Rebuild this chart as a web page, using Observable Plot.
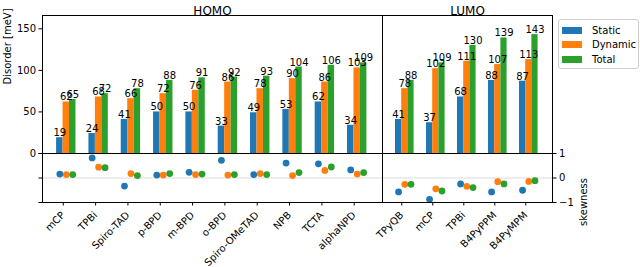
<!DOCTYPE html>
<html>
<head>
<meta charset="utf-8">
<script src="https://cdn.jsdelivr.net/npm/d3@7"></script>
<script src="https://cdn.jsdelivr.net/npm/@observablehq/plot@0.6"></script>
<style>
  html, body { margin: 0; padding: 0; background: white; }
  #chart { position: relative; width: 640px; height: 267px; font-family: "DejaVu Sans", sans-serif; }
  #chart svg { position: absolute; left: 0; top: 0; overflow: visible; }
  .legend { position: absolute; left: 558px; top: 19px; width: 79px; height: 48px; border: 1px solid #d0d0d0; border-radius: 3px; background: white; font-size: 10px; }
  .legend .row { position: absolute; left: 3px; height: 12px; display: flex; align-items: center; }
  .legend .sw { width: 20px; height: 7px; margin-right: 10px; }
</style>
</head>
<body>
<div id="chart"></div>
<script>
const series = ["Static", "Dynamic", "Total"];
const colors = ["#1f77b4", "#ff7f0e", "#2ca02c"];

const homo = ["mCP", "TPBi", "Spiro-TAD", "p-BPD", "m-BPD", "o-BPD", "Spiro-OMeTAD", "NPB", "TCTA", "alphaNPD"];
const homoStatic  = [19, 24, 41, 50, 50, 33, 49, 53, 62, 34];
const homoDynamic = [62, 68, 66, 72, 76, 86, 78, 90, 86, 103];
const homoTotal   = [65, 72, 78, 88, 91, 92, 93, 104, 106, 109];
const homoSkewStatic  = [0.16, 0.82, -0.33, 0.12, 0.23, 0.72, 0.14, 0.61, 0.58, 0.33];
const homoSkewDynamic = [0.14, 0.44, 0.18, 0.12, 0.14, 0.12, 0.18, 0.10, 0.31, 0.16];
const homoSkewTotal   = [0.14, 0.42, 0.10, 0.18, 0.16, 0.14, 0.14, 0.22, 0.45, 0.22];

const lumo = ["TPyQB", "mCP", "TPBi", "B4PyPPM", "B4PyMPM"];
const lumoStatic  = [41, 37, 68, 88, 87];
const lumoDynamic = [78, 102, 111, 107, 113];
const lumoTotal   = [88, 109, 130, 139, 143];
const lumoSkewStatic  = [-0.57, -0.87, -0.24, -0.57, -0.50];
const lumoSkewDynamic = [-0.26, -0.44, -0.34, -0.15, -0.14];
const lumoSkewTotal   = [-0.26, -0.53, -0.39, -0.24, -0.11];

const disorderTicks = [0, 50, 100, 150];
const skewTicks = [-1, 0, 1];

function rowsFor(cats, vals, skews) {
  return cats.flatMap((c, i) => series.map((s, k) => ({i, c, s, k, v: vals[k][i], sk: skews[k][i]})));
}
const homoRows = rowsFor(homo, [homoStatic, homoDynamic, homoTotal], [homoSkewStatic, homoSkewDynamic, homoSkewTotal]);
const lumoRows = rowsFor(lumo, [lumoStatic, lumoDynamic, lumoTotal], [lumoSkewStatic, lumoSkewDynamic, lumoSkewTotal]);

const W = 640, H = 267;
const L = 42, SEP = 382, R = 552, TOP = 15, MID = 153, BOT = 202;
const bw = 0.2;
const pos = d => d.i + (d.k - 1) * bw;

const base = {
  width: W, height: H,
  style: {background: "transparent", fontFamily: "DejaVu Sans, sans-serif", fontSize: "10px", color: "black", overflow: "visible"},
  color: {domain: series, range: colors}
};

function topPlot(rows, xdom, left, right, title, withY) {
  return Plot.plot({
    ...base,
    marginLeft: left, marginRight: W - right, marginTop: TOP, marginBottom: H - MID,
    x: {type: "linear", domain: xdom, axis: null},
    y: {domain: [0, 166], axis: null},
    marks: [
      Plot.rectY(rows, {x1: d => pos(d) - bw / 2, x2: d => pos(d) + bw / 2, y: "v", fill: "s"}),
      Plot.text(rows, {x: pos, y: "v", text: d => String(d.v), lineAnchor: "bottom", dy: -1.5, fontSize: 10, fill: "black"}),
      ...(withY ? [
        Plot.axisY({ticks: disorderTicks, tickSize: 3.5, tickPadding: 3, label: null}),
        Plot.text(["Disorder [meV]"], {text: d => d, frameAnchor: "left", dx: -35, rotate: -90, fontSize: 10})
      ] : []),
      Plot.text([title], {text: d => d, frameAnchor: "top", dy: -9.5, fontSize: 12}),
      Plot.frame({stroke: "black", strokeWidth: 1})
    ]
  });
}

function skewPlot(rows, cats, xdom, left, right, side) {
  return Plot.plot({
    ...base,
    marginLeft: left, marginRight: W - right, marginTop: MID, marginBottom: H - BOT,
    x: {type: "linear", domain: xdom, axis: null},
    y: {domain: [-1, 1], axis: null},
    marks: [
      Plot.ruleY([0], {stroke: "#dcdcdc", strokeWidth: 1.2}),
      Plot.dot(rows, {x: pos, y: "sk", fill: "s", r: 3.4}),
      Plot.axisX({ticks: d3.range(cats.length), tickFormat: i => cats[i], tickRotate: -45, textAnchor: "end", tickSize: 3.5, tickPadding: 7.5, dx: -3, label: null}),
      ...(side === "left"
        ? [Plot.axisY({ticks: skewTicks, tickSize: 3.5, tickFormat: () => "", label: null})]
        : [Plot.axisY({anchor: "right", ticks: skewTicks, tickSize: 3.5, tickPadding: 3, tickFormat: d3.format("d"), label: null}),
           Plot.text(["skewness"], {text: d => d, frameAnchor: "right", dx: 31, rotate: -90, fontSize: 10})]),
      Plot.frame({stroke: "black", strokeWidth: 1})
    ]
  });
}

const chart = document.getElementById("chart");
chart.append(
  topPlot(homoRows, [-0.736, 9.783], L, SEP, "HOMO", true),
  topPlot(lumoRows, [-0.719, 4.765], SEP, R, "LUMO", false),
  skewPlot(homoRows, homo, [-0.736, 9.783], L, SEP, "left"),
  skewPlot(lumoRows, lumo, [-0.719, 4.765], SEP, R, "right")
);

const legend = document.createElement("div");
legend.className = "legend";
series.forEach((s, k) => {
  const row = document.createElement("div");
  row.className = "row";
  row.style.top = (4 + k * 14.5) + "px";
  const sw = document.createElement("div");
  sw.className = "sw";
  sw.style.background = colors[k];
  const t = document.createElement("span");
  t.textContent = s;
  row.append(sw, t);
  legend.append(row);
});
chart.append(legend);
</script>
</body>
</html>
